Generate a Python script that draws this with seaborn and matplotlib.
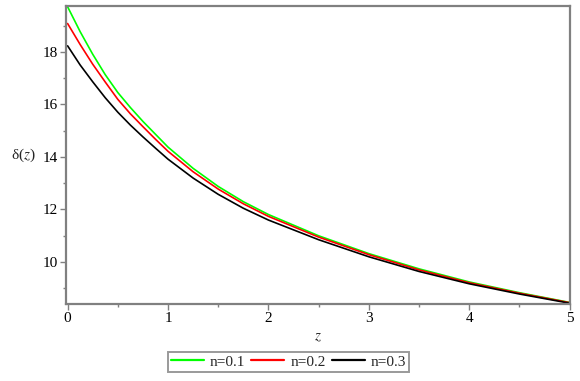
import pandas as pd
import seaborn as sns
import matplotlib.pyplot as plt
from matplotlib.ticker import MultipleLocator

# values
z = [0, 0.125, 0.25, 0.375, 0.5, 0.625, 0.75, 0.875, 1.0, 1.25, 1.5, 1.75, 2.0, 2.5, 3.0, 3.5, 4.0, 4.5, 5.0]
delta_n01 = [19.72, 18.77, 17.91, 17.13, 16.45, 15.88, 15.35, 14.86, 14.37, 13.56, 12.87, 12.29, 11.80,
             10.99, 10.31, 9.73, 9.23, 8.82, 8.45]
delta_n02 = [19.08, 18.28, 17.53, 16.85, 16.19, 15.64, 15.15, 14.67, 14.21, 13.43, 12.77, 12.21, 11.73,
             10.94, 10.27, 9.69, 9.20, 8.80, 8.44]
delta_n03 = [18.23, 17.50, 16.86, 16.25, 15.70, 15.21, 14.76, 14.33, 13.91, 13.19, 12.57, 12.04, 11.59,
             10.84, 10.19, 9.63, 9.16, 8.77, 8.42]
labels = ['n=0.1', 'n=0.2', 'n=0.3']
colors = {'n=0.1': '#00ff00', 'n=0.2': '#ff0000', 'n=0.3': '#000000'}


def build_frame():
    parts = []
    for lab, vals in zip(labels, [delta_n01, delta_n02, delta_n03]):
        parts.append(pd.DataFrame({'z': z, 'delta': vals, 'n': lab}))
    return pd.concat(parts, ignore_index=True)


def plot_delta(df):
    sns.set_theme(style='white')
    plt.rcParams['font.family'] = ['Liberation Serif', 'DejaVu Serif']
    plt.rcParams['mathtext.fontset'] = 'stix'

    fig = plt.figure(figsize=(5.8, 3.81), dpi=100)
    ax = fig.add_axes([66.3 / 580, 1 - 304 / 381, (570 - 66.3) / 580, (304 - 5.7) / 381])

    sns.lineplot(data=df, x='z', y='delta', hue='n', palette=colors, linewidth=1.2, ax=ax)

    ax.set_xlim(-0.013, 5.003)
    ax.set_ylim(8.39, 19.76)
    ax.xaxis.set_major_locator(MultipleLocator(1))
    ax.xaxis.set_minor_locator(MultipleLocator(0.5))
    ax.yaxis.set_major_locator(MultipleLocator(2))
    ax.yaxis.set_minor_locator(MultipleLocator(1))
    ax.tick_params(which='major', length=4, width=1, color='#808080', labelsize=11, pad=2,
                   direction='out', bottom=True, left=True, labelcolor='black')
    ax.tick_params(which='minor', length=2.5, width=1, color='#808080', direction='out',
                   bottom=True, left=True)
    for sp in ax.spines.values():
        sp.set_color('#808080')
        sp.set_linewidth(1.6)

    ax.set_xlabel('$z$', fontsize=11, labelpad=4)
    ax.set_ylabel('δ($z$)', fontsize=11, rotation=0, labelpad=14, va='center')

    handles, labs = ax.get_legend_handles_labels()
    ax.get_legend().remove()
    leg = fig.legend(handles, labs, loc='center', bbox_to_anchor=(288.5 / 580, 1 - 361.7 / 381),
                     ncol=3, fontsize=11, frameon=True, fancybox=False, handlelength=2.15,
                     handletextpad=0.4, columnspacing=0.4, borderpad=0.2, borderaxespad=0)
    leg.get_frame().set_edgecolor('#808080')
    leg.get_frame().set_linewidth(1.4)
    for line in leg.get_lines():
        line.set_linewidth(1.6)

    fig.savefig('out.png', dpi=100)


if __name__ == '__main__':
    df = build_frame()
    plot_delta(df)
